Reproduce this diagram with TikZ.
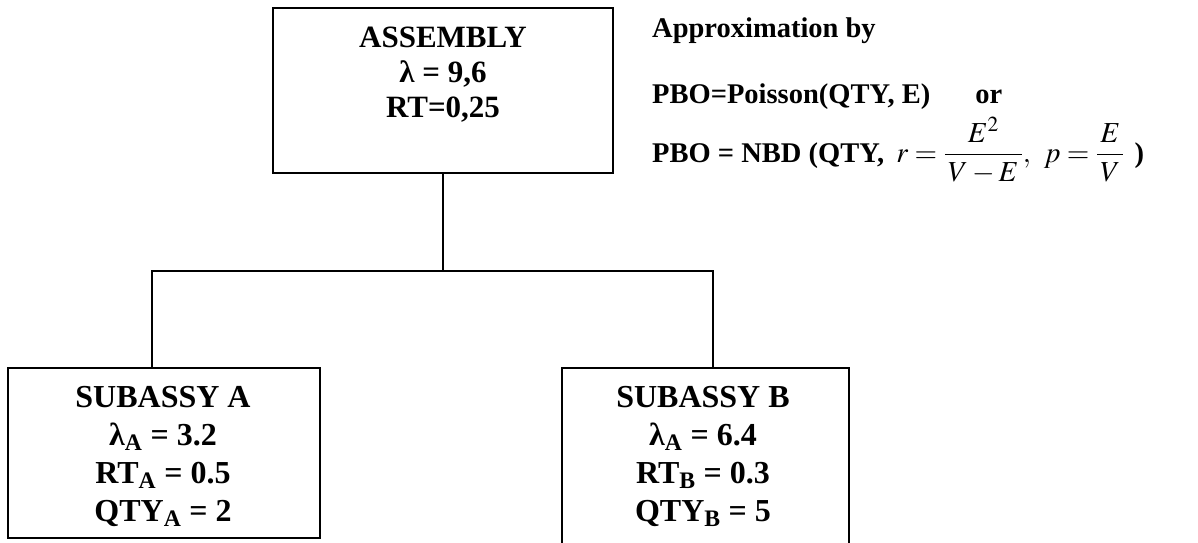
\documentclass[tikz,border=0pt]{standalone}
\usepackage{amsmath}
\usepackage{mathptmx}
\usepackage{fontspec}
\setmainfont{Liberation Serif}
\usetikzlibrary{positioning}

\newcommand{\mathpart}[1]{{\mdseries\fontsize{29}{33}\selectfont$#1$}}

\begin{document}
\begin{tikzpicture}[
    x=1pt, y=-1pt,
    box/.style={rectangle, draw, line width=1.8pt, anchor=north west, inner sep=0pt},
    boxtext/.style={align=center, inner sep=0pt, anchor=north, font=\fontsize{31}{35}\selectfont\bfseries},
    subtext/.style={align=center, inner sep=0pt, anchor=north, font=\fontsize{32}{38}\selectfont\bfseries},
    note/.style={inner sep=0pt, anchor=base west, font=\fontsize{28.5}{32}\selectfont\bfseries},
    edge/.style={line width=1.8pt}
]
    \useasboundingbox (0,0) rectangle (1198,542);

    % boxes
    \node[box, minimum width=340pt, minimum height=165pt] (assembly) at (272,7) {};
    \node[box, minimum width=312pt, minimum height=170pt] (subA) at (7,367) {};
    \node[box, minimum width=287pt, minimum height=190pt] (subB) at (561,367) {};

    % box texts
    \node[boxtext] (assemblytxt) at (443,27) {ASSEMBLY\\ λ = 9,6\\ RT=0,25};
    \node[subtext] (subAtxt) at (163,386) {SUBASSY A\\ λ\textsubscript{A} = 3.2\\ RT\textsubscript{A} = 0.5\\ QTY\textsubscript{A} = 2};
    \node[subtext] (subBtxt) at (703,386) {SUBASSY B\\ λ\textsubscript{A} = 6.4\\ RT\textsubscript{B} = 0.3\\ QTY\textsubscript{B} = 5};

    % approximation notes
    \node[note] (approx) at (652,37) {Approximation by};
    \node[note] (poisson) at (652,103) {PBO=Poisson(QTY, E)\hspace{45pt}or};
    \node[note] (nbd) at (652,162) {PBO = NBD (QTY,\hspace{12pt}\mathpart{r=\dfrac{E^2}{\,V-E\,},\;\, p=\dfrac{\,E\,}{V}}\hspace{10pt})};

    % tree connectors
    \coordinate (split) at (assembly.south |- 0,271);
    \draw[edge] (assembly.south) -- (split);
    \draw[edge] (subA.north -| 152,0) |- (split) -| (subB.north -| 713,0);
\end{tikzpicture}
\end{document}
